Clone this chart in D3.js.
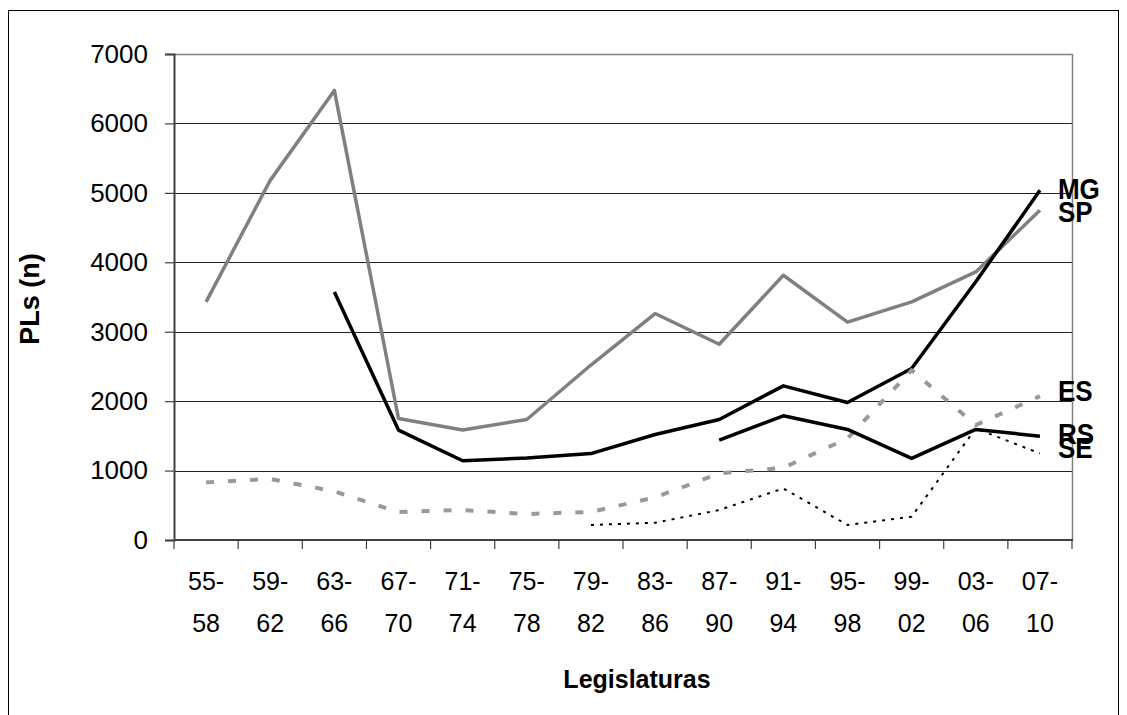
<!DOCTYPE html>
<html>
<head>
<meta charset="utf-8">
<script src="https://cdn.jsdelivr.net/npm/d3@7"></script>
<style>
  html, body { margin: 0; padding: 0; background: #fff; }
  svg { display: block; font-family: "Liberation Sans", Arial, sans-serif; }
</style>
</head>
<body>
<svg id="chart" width="1127" height="715"></svg>
<script>
// ---- data ----
const categoriesTop = ["55-","59-","63-","67-","71-","75-","79-","83-","87-","91-","95-","99-","03-","07-"];
const categoriesBottom = ["58","62","66","70","74","78","82","86","90","94","98","02","06","10"];
const categories = categoriesTop.map((t, i) => t + categoriesBottom[i]);
const yTicks = [0, 1000, 2000, 3000, 4000, 5000, 6000, 7000];

const SP = [3430, 5180, 6475, 1750, 1583, 1736, 2520, 3262, 2820, 3813, 3137, 3429, 3861, 4748];
const MG = [null, null, 3573, 1583, 1141, 1180, 1245, 1520, 1736, 2220, 1981, 2470, 3720, 5036];
const ES = [830, 880, 700, 403, 432, 374, 405, 614, 959, 1041, 1463, 2446, 1655, 2072];
const RS = [null, null, null, null, null, null, null, null, 1439, 1789, 1592, 1175, 1592, 1496];
const SE = [null, null, null, null, null, null, 216, 249, 432, 743, 216, 336, 1607, 1247];

const seriesNames = ["SP", "MG", "ES", "RS", "SE"];
const seriesValues = [SP, MG, ES, RS, SE];

// ---- styles ----
const styles = {
  SP: { color: "#808080", width: 3.5, dash: null },
  MG: { color: "#000000", width: 3.5, dash: null },
  ES: { color: "#999999", width: 4, dash: "8,14" },
  RS: { color: "#000000", width: 3.5, dash: null },
  SE: { color: "#000000", width: 2, dash: "3,6" }
};

const svg = d3.select("#chart");
const pLeft = 174, pRight = 1072, pTop = 54, pBottom = 540;

const x = d3.scaleBand().domain(categories).range([pLeft, pRight]);
const y = d3.scaleLinear().domain([0, 7000]).range([pBottom, pTop]);
const cx = c => x(c) + x.bandwidth() / 2;

// outer frame
svg.append("rect")
  .attr("x", 8.5).attr("y", 10.5)
  .attr("width", 1110).attr("height", 720)
  .attr("fill", "none").attr("stroke", "#000").attr("stroke-width", 1);

// gridlines
svg.append("g").selectAll("line")
  .data(yTicks.filter(v => v > 0 && v < 7000))
  .join("line")
  .attr("x1", pLeft).attr("x2", pRight)
  .attr("y1", d => Math.round(y(d)) + 0.5).attr("y2", d => Math.round(y(d)) + 0.5)
  .attr("stroke", "#222").attr("stroke-width", 1);

// plot border (top & right) gray
svg.append("path")
  .attr("d", `M${pLeft},${pTop + 0.5}H${pRight + 0.5}V${pBottom}`)
  .attr("fill", "none").attr("stroke", "#808080").attr("stroke-width", 1.5);

// y axis
const yAxis = svg.append("g")
  .attr("transform", `translate(${pLeft},0)`)
  .call(d3.axisLeft(y).tickValues(yTicks).tickSize(9).tickPadding(17).tickFormat(d3.format("d")));
yAxis.select(".domain").attr("stroke", "#404040").attr("stroke-width", 2);
yAxis.selectAll(".tick line").attr("stroke", "#404040").attr("stroke-width", 1.2);
yAxis.selectAll("text")
  .attr("font-size", 26).attr("fill", "#000")
  .style("font-family", "'Liberation Sans', Arial, sans-serif");

// x axis baseline + ticks at category boundaries
const xg = svg.append("g");
xg.append("line")
  .attr("x1", pLeft).attr("x2", pRight + 1)
  .attr("y1", pBottom).attr("y2", pBottom)
  .attr("stroke", "#404040").attr("stroke-width", 2);
const boundaries = categories.map(c => x(c)).concat([x(categories[categories.length - 1]) + x.bandwidth()]);
xg.selectAll("line.tk")
  .data(boundaries)
  .join("line").attr("class", "tk")
  .attr("x1", d => d).attr("x2", d => d)
  .attr("y1", pBottom).attr("y2", pBottom + 9)
  .attr("stroke", "#404040").attr("stroke-width", 1.2);

const xl = xg.selectAll("text.xl")
  .data(categories)
  .join("text").attr("class", "xl")
  .attr("x", d => cx(d))
  .attr("text-anchor", "middle")
  .attr("font-size", 25)
  .attr("fill", "#000");
xl.append("tspan").attr("x", d => cx(d)).attr("y", 590).text((d, i) => categoriesTop[i]);
xl.append("tspan").attr("x", d => cx(d)).attr("y", 632).text((d, i) => categoriesBottom[i]);

// axis titles
svg.append("text")
  .attr("x", 637).attr("y", 688)
  .attr("text-anchor", "middle")
  .attr("font-size", 25).attr("font-weight", "bold")
  .text("Legislaturas");
svg.append("text")
  .attr("transform", "translate(39,299) rotate(-90)")
  .attr("text-anchor", "middle")
  .attr("font-size", 27).attr("font-weight", "bold")
  .text("PLs (n)");

// lines
const line = d3.line()
  .defined(d => d.v != null)
  .x(d => cx(d.c))
  .y(d => y(d.v));

const lg = svg.append("g");
seriesNames.forEach((name, si) => {
  const vals = seriesValues[si];
  const data = categories.map((c, i) => ({ c, v: vals[i] }));
  const st = styles[name];
  lg.append("path")
    .datum(data)
    .attr("d", line)
    .attr("fill", "none")
    .attr("stroke", st.color)
    .attr("stroke-width", st.width)
    .attr("stroke-linejoin", "round")
    .attr("stroke-dasharray", st.dash);
});

// series labels at the end
const lastCat = categories[categories.length - 1];
const labelNudge = { SP: 1, MG: -2, ES: -5, RS: -2, SE: -6 };
svg.append("g").selectAll("text")
  .data(seriesNames)
  .join("text")
  .attr("transform", (d, i) =>
    `translate(${cx(lastCat) + 18},${y(seriesValues[i][seriesValues[i].length - 1]) + labelNudge[d]}) scale(1,1.1)`)
  .attr("dy", "0.36em")
  .attr("font-size", 26).attr("font-weight", "bold")
  .attr("fill", "#000")
  .text(d => d);
</script>
</body>
</html>
